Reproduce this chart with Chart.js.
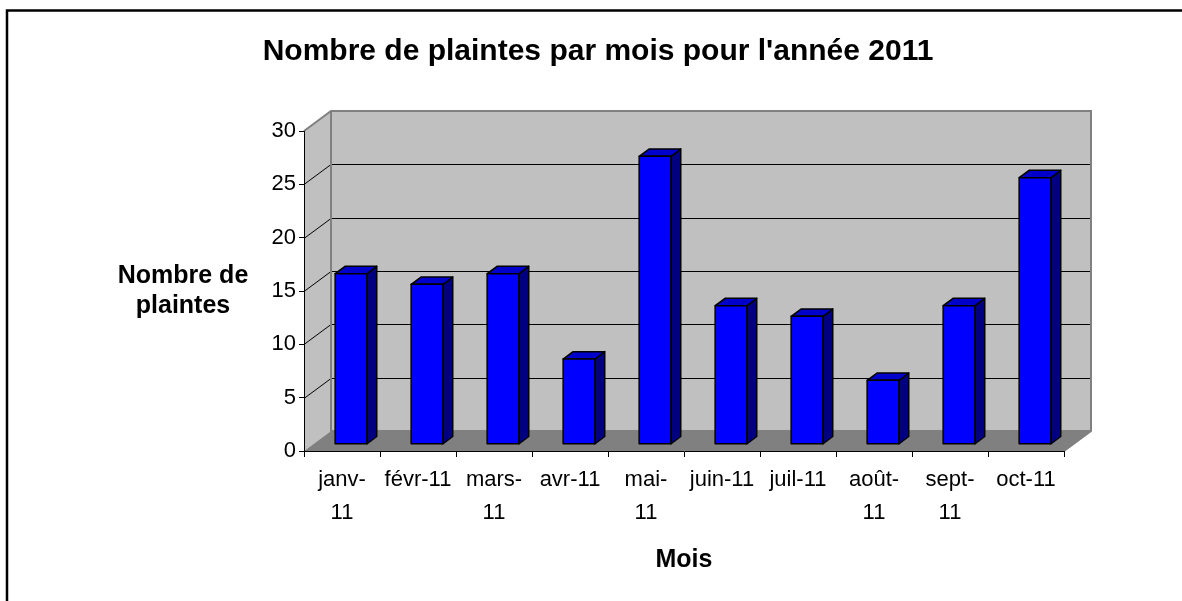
<!DOCTYPE html>
<html lang="fr">
<head>
<meta charset="utf-8">
<title>Nombre de plaintes par mois</title>
<script src="https://cdn.jsdelivr.net/npm/chart.js@4"></script>
<style>
  body { margin: 0; background: #fff; overflow: hidden; }
  canvas { display: block; }
</style>
</head>
<body>
<canvas id="chart" width="1182" height="601"></canvas>
<script>
const months = [['janv-', '11'], 'févr-11', ['mars-', '11'], 'avr-11', ['mai-', '11'], 'juin-11', 'juil-11', ['août-', '11'], ['sept-', '11'], 'oct-11'];
const complaints = [16, 15, 16, 8, 27, 13, 12, 6, 13, 25];
const yTicks = [0, 5, 10, 15, 20, 25, 30];
const chartTitle = "Nombre de plaintes par mois pour l'année 2011";
const yTitle = ['Nombre de', 'plaintes'];
const xTitle = 'Mois';

// fake 3D: depth of the walls, and where the bars sit inside that depth
const DX = 27, DY = -20;
const BAR_FRONT = 1 / 3, BAR_BACK = 0.7;
const FONT = "'Liberation Sans', Arial, sans-serif";

function poly(ctx, pts, fill, stroke, lw) {
  ctx.beginPath();
  ctx.moveTo(pts[0][0], pts[0][1]);
  for (let i = 1; i < pts.length; i++) ctx.lineTo(pts[i][0], pts[i][1]);
  ctx.closePath();
  if (fill) { ctx.fillStyle = fill; ctx.fill(); }
  if (stroke) { ctx.strokeStyle = stroke; ctx.lineWidth = lw || 1; ctx.stroke(); }
}

function line(ctx, pts) {
  ctx.beginPath();
  ctx.moveTo(pts[0][0], pts[0][1]);
  for (let i = 1; i < pts.length; i++) ctx.lineTo(pts[i][0], pts[i][1]);
  ctx.stroke();
}

// walls, floor, gridlines, frame and the y title
const wallsPlugin = {
  id: 'walls',
  beforeDraw(chart) {
    const ctx = chart.ctx;
    const { left, right, top, bottom } = chart.chartArea;
    const yScale = chart.scales.y;
    ctx.save();

    // outer frame, only top and left edges are inside the picture
    ctx.strokeStyle = '#000';
    ctx.lineWidth = 2.5;
    line(ctx, [[7, 700], [7, 10.5], [1300, 10.5]]);

    poly(ctx, [[left, top], [left + DX, top + DY], [left + DX, bottom + DY], [left, bottom]], '#c0c0c0');
    poly(ctx, [[left + DX, top + DY], [right + DX, top + DY], [right + DX, bottom + DY], [left + DX, bottom + DY]], '#c0c0c0');
    poly(ctx, [[left, bottom], [right, bottom], [right + DX, bottom + DY], [left + DX, bottom + DY]], '#808080');

    ctx.strokeStyle = '#000';
    ctx.lineWidth = 1;
    yTicks.slice(1, -1).forEach(v => {
      const py = Math.round(yScale.getPixelForValue(v)) + 0.5;
      line(ctx, [[left, py], [left + DX, py + DY], [right + DX, py + DY]]);
    });

    ctx.strokeStyle = '#808080';
    ctx.lineWidth = 2;
    line(ctx, [[left, top], [left + DX, top + DY], [right + DX, top + DY], [right + DX, bottom + DY], [right, bottom]]);
    line(ctx, [[left + DX, top + DY], [left + DX, bottom + DY], [right + DX, bottom + DY]]);

    ctx.fillStyle = '#000';
    ctx.font = 'bold 25px ' + FONT;
    ctx.textAlign = 'center';
    ctx.textBaseline = 'middle';
    yTitle.forEach((t, i) => ctx.fillText(t, 183, 276 + i * 30));
    ctx.restore();
  }
};

// draw each bar as a box from the element's scale positions
const barsPlugin = {
  id: 'bars3d',
  afterDatasetsDraw(chart) {
    const ctx = chart.ctx;
    ctx.save();
    ctx.lineJoin = 'round';
    chart.getDatasetMeta(0).data.forEach(bar => {
      const { x, y, base, width } = bar.getProps(['x', 'y', 'base', 'width'], true);
      const l = x - width / 2 + DX * BAR_FRONT;
      const r = l + width;
      const t = y + DY * BAR_FRONT;
      const b = base + DY * BAR_FRONT;
      const ox = DX * (BAR_BACK - BAR_FRONT), oy = DY * (BAR_BACK - BAR_FRONT);
      poly(ctx, [[r, t], [r + ox, t + oy], [r + ox, b + oy], [r, b]], '#000080', '#000', 1.5);
      poly(ctx, [[l, t], [l + ox, t + oy], [r + ox, t + oy], [r, t]], '#0000cc', '#000', 1.5);
      poly(ctx, [[l, t], [r, t], [r, b], [l, b]], '#0000ff', '#000', 1.5);
    });
    ctx.restore();
  }
};

new Chart(document.getElementById('chart'), {
  type: 'bar',
  data: {
    labels: months,
    datasets: [{
      label: 'Plaintes',
      data: complaints,
      backgroundColor: 'rgba(0,0,0,0)',
      borderWidth: 0,
      barPercentage: 0.417,
      categoryPercentage: 1
    }]
  },
  options: {
    responsive: false,
    animation: false,
    devicePixelRatio: 1,
    layout: { padding: { left: 132, right: 118, top: 0, bottom: 0 } },
    plugins: {
      legend: { display: false },
      tooltip: { enabled: false },
      title: {
        display: true,
        text: chartTitle,
        color: '#000',
        font: { family: FONT, size: 30, weight: 'bold', lineHeight: 1.2 },
        padding: { top: 34, bottom: 61 }
      }
    },
    scales: {
      x: {
        offset: true,
        grid: { offset: true, drawOnChartArea: false, tickLength: 6, color: '#000' },
        border: { color: '#000', width: 1 },
        ticks: {
          color: '#000',
          font: { family: FONT, size: 22, lineHeight: 1.5 },
          padding: 6,
          maxRotation: 0,
          autoSkip: false
        },
        title: {
          display: true,
          text: xTitle,
          color: '#000',
          font: { family: FONT, size: 25, weight: 'bold', lineHeight: 1.2 },
          padding: { top: 0, bottom: 26 }
        },
        afterFit(scale) { scale.height = 150; }
      },
      y: {
        min: yTicks[0],
        max: yTicks[yTicks.length - 1],
        ticks: {
          stepSize: yTicks[1] - yTicks[0],
          color: '#000',
          font: { family: FONT, size: 22 },
          padding: 3
        },
        grid: { drawOnChartArea: false, tickLength: 5, color: '#000' },
        border: { color: '#000', width: 1 },
        afterFit(scale) { scale.width = 172; }
      }
    }
  },
  plugins: [wallsPlugin, barsPlugin]
});
</script>
</body>
</html>
